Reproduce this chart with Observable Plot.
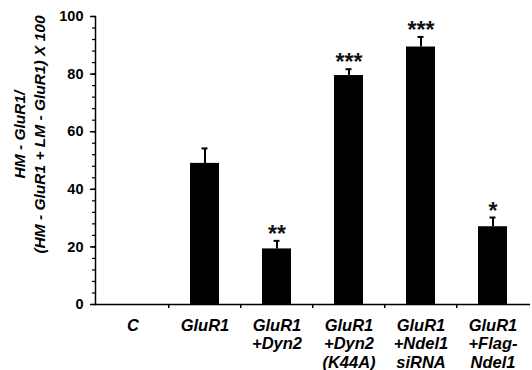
<!DOCTYPE html>
<html>
<head>
<meta charset="utf-8">
<script src="https://cdn.jsdelivr.net/npm/d3@7"></script>
<script src="https://cdn.jsdelivr.net/npm/@observablehq/plot@0.6"></script>
<style>
  html, body { margin: 0; padding: 0; background: #fff; }
  svg { font-family: "Liberation Sans", Arial, sans-serif; }
</style>
</head>
<body>
<div id="chart"></div>
<script>
const categories = ["C", "GluR1", "GluR1\n+Dyn2", "GluR1\n+Dyn2\n(K44A)", "GluR1\n+Ndel1\nsiRNA", "GluR1\n+Flag-\nNdel1"];
const values = [0, 49, 19.3, 79.5, 89.4, 27];
const errors = [0, 5.2, 2.8, 2.2, 3.5, 3.2];
const stars = ["", "", "**", "***", "***", "*"];
const majorTicks = [0, 20, 40, 60, 80, 100];
const minorTicks = d3.range(0, 101, 4);
const yLabel = "HM - GluR1/\n(HM - GluR1 + LM - GluR1) X 100";

const data = categories.map((c, i) => ({cat: c, value: values[i], err: errors[i], star: stars[i]}));
const withErr = data.filter(d => d.err > 0);

const W = 532, H = 370, mL = 95, mR = 2;
const step = (W - mL - mR) / categories.length;

const chart = Plot.plot({
  width: W,
  height: H,
  marginLeft: mL,
  marginRight: mR,
  marginTop: 16,
  marginBottom: 66,
  style: {fontFamily: "Liberation Sans, Arial, sans-serif", color: "#000", background: "#fff"},
  x: {domain: categories, paddingInner: 0.6, paddingOuter: 0.3, axis: null},
  y: {domain: [0, 100], axis: null},
  marks: [
    Plot.barY(data.filter(d => d.value > 0), {x: "cat", y: "value", fill: "#000"}),
    Plot.ruleX(withErr, {x: "cat", y1: "value", y2: d => d.value + d.err, stroke: "#000", strokeWidth: 2}),
    Plot.tickY(withErr, {x: "cat", y: d => d.value + d.err, stroke: "#000", strokeWidth: 2, insetLeft: 11.5, insetRight: 11.5}),
    Plot.text(withErr.filter(d => d.star), {x: "cat", y: d => d.value + d.err, text: "star", lineAnchor: "bottom", dy: 1, fontSize: 23, fill: "#111", fontWeight: "bold"}),
    Plot.ruleY([0], {stroke: "#000", strokeWidth: 1.5}),
    Plot.frame({anchor: "left", stroke: "#000", strokeWidth: 1.5}),
    Plot.axisY({ticks: minorTicks, tickSize: 3, tickFormat: () => "", stroke: "#000", strokeWidth: 1.2, label: null}),
    Plot.axisY({ticks: majorTicks, tickSize: 5, tickPadding: 7, fontSize: 14.5, fontWeight: "bold", stroke: "#000", strokeWidth: 1.5, label: null}),
    Plot.axisX(categories.slice(1), {tickSize: 4, tickFormat: () => "", dx: -step / 2, stroke: "#000", strokeWidth: 1.5, label: null}),
    Plot.axisX({tickSize: 0, tickPadding: 13, fontSize: 16.5, fontWeight: "bold", fontStyle: "italic", lineHeight: 1.12, label: null}),
    Plot.text([yLabel], {frameAnchor: "left", text: d => d, textAnchor: "middle", rotate: -90, dx: -67, dy: -26, fontSize: 15.5, fontWeight: "bold", fontStyle: "italic", lineHeight: 1.29, fill: "#000"})
  ]
});
document.getElementById("chart").appendChild(chart);
</script>
</body>
</html>
